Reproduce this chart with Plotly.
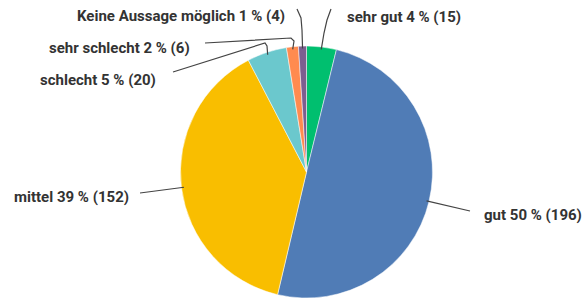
import math
import plotly.graph_objects as go

labels = ["sehr gut", "gut", "mittel", "schlecht", "sehr schlecht", "Keine Aussage möglich"]
counts = [15, 196, 152, 20, 6, 4]
percents = [4, 50, 39, 5, 2, 1]
colors = ["#00BF6F", "#507CB6", "#F9BE00", "#6BC8CD", "#FF8B4F", "#7D5E90"]

W, H = 583, 299
CX, CY, R = 306.5, 172, 126

def px(x, y):
    return x / W, 1 - y / H

fig = go.Figure(go.Pie(
    labels=labels, values=counts, sort=False, direction="clockwise", rotation=0,
    marker=dict(colors=colors, line=dict(color="white", width=0.5)),
    textinfo="none", showlegend=False,
    domain=dict(x=[(CX - R) / W, (CX + R) / W], y=[1 - (CY + R) / H, 1 - (CY - R) / H]),
))

# anchor points on slices from data
total = sum(counts)
anchors = []
acc = 0
for c in counts:
    mid = (acc + c / 2) / total * 2 * math.pi
    acc += c
    rr = R * 0.98
    anchors.append((CX + rr * math.sin(mid), CY - rr * math.cos(mid)))

# leader line waypoints (layout), ending at data anchor
waypoints = [
    [(331, 9), (327, 20), (324, 33)],   # sehr gut
    [(470, 211)],                       # gut
    [(140, 193)],                       # mittel
    [(173, 72), (265, 43), (267, 46)],  # schlecht
    [(205, 43), (291, 38), (294, 41)],  # sehr schlecht
    [(297, 9), (301, 18), (302, 30)],   # keine Aussage
]
shapes = []
for wp, a in zip(waypoints, anchors):
    pts = wp + [a]
    d = ""
    for i, (x, y) in enumerate(pts):
        X, Y = px(x, y)
        d += ("M" if i == 0 else " L") + f"{X:.5f},{Y:.5f}"
    shapes.append(dict(type="path", path=d, xref="paper", yref="paper",
                       line=dict(color="#444444", width=1.2)))

text_pos = [(345, 17), (482, 215), (12, 197), (38, 80), (47, 48), (75, 16)]
annotations = []
for lab, p, c, (x, y) in zip(labels, percents, counts, text_pos):
    X, Y = px(x, y)
    annotations.append(dict(text=f"{lab} {p} % ({c})", x=X, y=Y, xref="paper", yref="paper",
                            xanchor="left", yanchor="middle", showarrow=False,
                            font=dict(family="Roboto", size=15, color="#333333", weight="bold")))

fig.update_layout(width=W, height=H, margin=dict(l=0, r=0, t=0, b=0),
                  paper_bgcolor="white", plot_bgcolor="white",
                  shapes=shapes, annotations=annotations)
fig.write_html("out.html", config={"displayModeBar": False},
               post_script="document.body.style.margin='0';document.body.style.overflow='hidden';")
